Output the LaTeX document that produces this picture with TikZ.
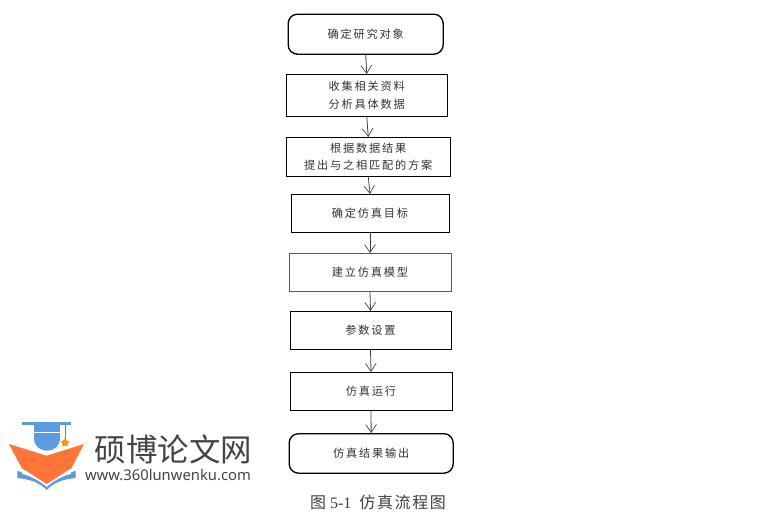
\documentclass[tikz,border=0pt]{standalone}
\usepackage{fontspec}
\setmainfont{Liberation Serif}
\newfontfamily\cjk[LetterSpace=16]{Noto Sans CJK SC}
\newfontfamily\cjkcap[LetterSpace=10]{Noto Sans CJK SC}
\newfontfamily\cjklogo{Noto Sans CJK SC}
\newfontfamily\logourl{Noto Sans}
\usetikzlibrary{arrows.meta,shapes.geometric}
\definecolor{tx}{HTML}{333333}
\definecolor{logoblue}{HTML}{5B9BE0}
\definecolor{logoorange}{HTML}{FF7438}
\definecolor{logogray}{HTML}{444444}
\tikzset{
  x=0.75pt,y=-0.75pt,
  base/.style={draw=black,line width=0.75pt,inner sep=0pt,align=center,text=tx,
    font=\cjk\fontsize{8.4pt}{12.8pt}\selectfont},
  procbox/.style={base,rectangle},
  softbox/.style={base,rectangle,draw=black!65},
  termbox/.style={base,rectangle,rounded corners=7pt,line width=1pt},
  flow/.style={draw=black!75,line width=0.6pt,-{Straight Barb[length=6pt,width=8pt,line width=0.5pt]}},
}
\newcommand{\boxnode}[6]{\node[#1,minimum width=#4*0.75pt,minimum height=#5*0.75pt,anchor=north west] (#2) at (#3) {#6};}
\begin{document}
\begin{tikzpicture}
\useasboundingbox (0,0) rectangle (773,512);
\fill[white] (0,0) rectangle (773,512);
\boxnode{termbox}{a}{287.5,13.5}{155}{40}{确定研究对象}
\boxnode{procbox}{b}{286,74}{160.5}{41.5}{收集相关资料\\分析具体数据}
\boxnode{procbox}{c}{286,137}{163.5}{38.5}{根据数据结果\\提出与之相匹配的方案}
\boxnode{procbox}{d}{290.5,194}{158}{37.5}{确定仿真目标}
\boxnode{softbox}{e}{288.5,253}{162}{37.5}{建立仿真模型}
\boxnode{procbox}{f}{289.5,311}{161}{37.5}{参数设置}
\boxnode{procbox}{g}{289.5,372}{162}{37.5}{仿真运行}
\boxnode{termbox}{h}{288.5,433}{164}{39.5}{仿真结果输出}
\draw[flow] (a.south) -- (b.north);
\draw[flow] (b.south) -- (c.north);
\draw[flow] (c.south) -- (d.north);
\draw[flow] (d.south) -- (e.north);
\draw[flow] (e.south) -- (f.north);
\draw[flow] (f.south) -- (g.north);
\draw[flow] (g.south) -- (h.north);
\node[inner sep=0pt,text=black!75,font=\fontsize{12pt}{14pt}\selectfont] (cap) at (378,502) {{\cjkcap 图} 5-1\ \ {\cjkcap 仿真流程图}};
% logo
\fill[logoorange] (9,444) -- (46.7,455.7) -- (84,444) -- (71.5,468) -- (46.7,484) -- (21.7,468) -- cycle;
\fill[logoblue] (17.3,470.7) -- (17.3,478) .. controls (30,479) and (40,483) .. (46.7,490) .. controls (53,483) and (63,479) .. (75.7,478) -- (75.7,470.7) -- (71,472.5) -- (71,474) .. controls (62,476) and (52,482) .. (46.7,487) .. controls (41,482) and (31,476) .. (22,474) -- (22,472.5) -- cycle;
\fill[logoblue] (22.3,422) rectangle (70.7,424.7);
\fill[logoblue] (34,425) rectangle (60,431.8);
\fill[logoblue] (34,433) -- (60,433) -- (60,438) .. controls (60,446) and (54,450.7) .. (47,450.7) .. controls (40,450.7) and (34,446) .. (34,438) -- cycle;
\draw[logoblue!85!black,line width=0.6pt] (65,424.7) -- (65,440);
\node[star,star points=5,fill=orange!85!yellow,minimum size=6.5pt,inner sep=0pt] (st) at (65,442.7) {};
\node[inner sep=0pt,text=logogray,font=\cjklogo\fontsize{23.6pt}{26pt}\selectfont] (lg) at (173.5,449) {硕博论文网};
\node[inner sep=0pt,text=logogray,font=\logourl\fontsize{11.1pt}{13pt}\selectfont] (url) at (168,475) {www.360lunwenku.com};
\end{tikzpicture}
\end{document}
